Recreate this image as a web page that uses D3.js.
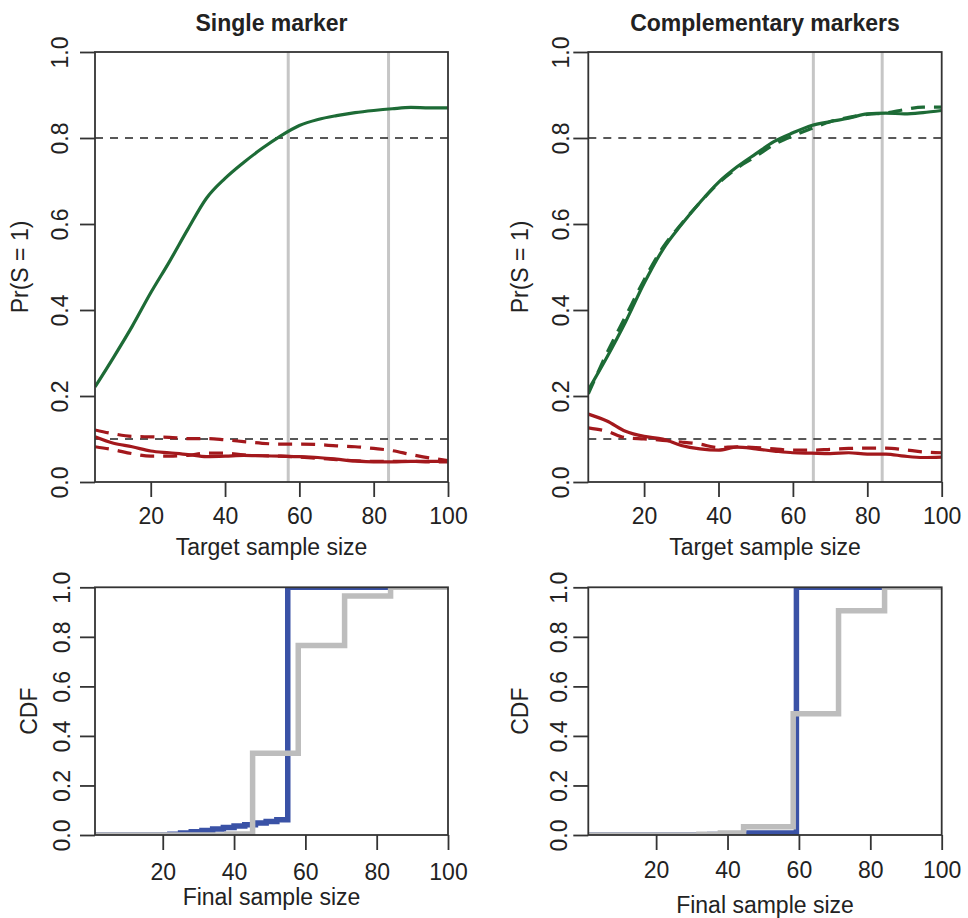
<!DOCTYPE html>
<html><head><meta charset="utf-8">
<script src="https://cdn.jsdelivr.net/npm/d3@7"></script>
<style>
body{margin:0;background:#fff;}
svg{display:block;font-family:"Liberation Sans",Arial,Helvetica,sans-serif;}
</style></head><body><svg id="c" width="968" height="918"></svg>
<script>
// ---------------- data ----------------
const targetSizes = [5,10,15,20,25,30,35,40,45,50,55,60,65,70,75,80,85,90,95,100];

// Single marker (top-left)
const singleGreenSolid = [0.221,0.29,0.362,0.44,0.512,0.588,0.66,0.706,0.743,0.776,0.805,0.829,0.843,0.852,0.859,0.864,0.868,0.871,0.870,0.870];
const singleRedSolid   = [0.105,0.09,0.082,0.072,0.068,0.064,0.059,0.060,0.062,0.061,0.060,0.059,0.057,0.053,0.049,0.047,0.047,0.048,0.048,0.048];
const singleRedDashHi  = [0.121,0.112,0.106,0.105,0.104,0.101,0.101,0.098,0.094,0.090,0.088,0.088,0.087,0.084,0.082,0.078,0.073,0.064,0.056,0.050];
const singleRedDashLo  = [0.082,0.075,0.066,0.060,0.060,0.062,0.067,0.067,0.063,0.061,0.060,0.058,0.055,0.052,0.049,0.048,0.048,0.048,0.047,0.047];

// Complementary markers (top-right)
const compGreenSolid = [0.214,0.29,0.372,0.462,0.54,0.598,0.65,0.697,0.733,0.763,0.792,0.812,0.829,0.838,0.846,0.856,0.858,0.856,0.859,0.864];
const compGreenDash  = [0.205,0.30,0.385,0.47,0.545,0.60,0.65,0.695,0.73,0.757,0.785,0.805,0.822,0.838,0.848,0.855,0.858,0.866,0.872,0.872];
const compRedSolid   = [0.158,0.142,0.118,0.106,0.100,0.085,0.077,0.074,0.081,0.077,0.072,0.068,0.067,0.066,0.068,0.065,0.065,0.060,0.057,0.058];
const compRedDash    = [0.126,0.118,0.103,0.100,0.097,0.093,0.088,0.080,0.082,0.080,0.077,0.074,0.074,0.076,0.078,0.079,0.079,0.075,0.070,0.068];

const thresholdLevels = [0.8, 0.1];
const singleRefSizes = [57, 84];
const compRefSizes = [65.5, 84];

// CDFs of final sample size (step functions)
const cdfSingleBlueX = [1,22,25,28,31,34,37,40,43,46,49,52,55.06,100];
const cdfSingleBlueY = [0,0.003,0.008,0.013,0.018,0.024,0.030,0.036,0.041,0.048,0.055,0.062,1.0,1.0];
const cdfSingleGrayX = [1,38,45.2,58,71,83.9,100];
const cdfSingleGrayY = [0,0.004,0.33,0.765,0.965,1.0,1.0];
const cdfCompBlueX = [1,35,46,59.3,100];
const cdfCompBlueY = [0,0.002,0.008,1.0,1.0];
const cdfCompGrayX = [1,32,38,44.5,58.4,71.1,84,100];
const cdfCompGrayY = [0,0.003,0.008,0.033,0.49,0.905,1.0,1.0];

const xTicks = [20,40,60,80,100];
const yTicks = [0,0.2,0.4,0.6,0.8,1.0];

const titles = ["Single marker","Complementary markers"];
const xLabels = ["Target sample size","Final sample size"];
const yLabels = ["Pr(S = 1)","CDF"];

// ---------------- styles ----------------
const C = {green:"#1d6b36", red:"#a3181c", blue:"#3a52a6", gray:"#bdbdbd", vgray:"#c6c6c6", frame:"#333", text:"#222"};
const FS = 23;

const svg = d3.select("#c");

function panel(p){
  const x = d3.scaleLinear().domain(p.xDomain).range([p.x0,p.x1]);
  const y = d3.scaleLinear().domain([0,1]).range([p.y1,p.y0]);
  const clipId = "clip"+p.id;
  svg.append("clipPath").attr("id",clipId).append("rect")
     .attr("x",p.x0).attr("y",p.y0).attr("width",p.x1-p.x0).attr("height",p.y1-p.y0);
  const g = svg.append("g").attr("clip-path",`url(#${clipId})`);
  p.draw(g,x,y);

  // x axis
  const xa = svg.append("g").attr("transform",`translate(0,${p.y1})`)
     .call(d3.axisBottom(x).tickValues(xTicks).tickSize(15).tickSizeOuter(0));
  xa.select(".domain").remove();
  xa.selectAll(".tick line").attr("stroke",C.frame).attr("stroke-width",1.8);
  xa.selectAll(".tick text").attr("y",p.xTickY-p.y1).attr("dy",null)
     .attr("font-size",FS).attr("fill",C.text).attr("font-family",null);

  // y axis
  const ya = svg.append("g").attr("transform",`translate(${p.x0},0)`)
     .call(d3.axisLeft(y).tickValues(yTicks).tickFormat(d3.format(".1f")).tickSize(15).tickSizeOuter(0));
  ya.select(".domain").remove();
  ya.selectAll(".tick line").attr("stroke",C.frame).attr("stroke-width",1.8);
  ya.selectAll(".tick text").attr("x",null).attr("dy",null)
     .attr("transform",`translate(${p.yTickX-p.x0},0) rotate(-90)`)
     .attr("text-anchor","middle").attr("font-size",FS).attr("fill",C.text).attr("font-family",null);

  // frame
  svg.append("rect").attr("x",p.x0).attr("y",p.y0).attr("width",p.x1-p.x0).attr("height",p.y1-p.y0)
     .attr("fill","none").attr("stroke",C.frame).attr("stroke-width",1.8);

  const cx = (p.x0+p.x1)/2, cy = (p.y0+p.y1)/2;
  if(p.title) svg.append("text").attr("x",cx).attr("y",p.titleY).attr("text-anchor","middle")
     .attr("font-size",FS).attr("font-weight","bold").attr("fill",C.text).text(p.title);
  svg.append("text").attr("x",cx).attr("y",p.xlabY).attr("text-anchor","middle")
     .attr("font-size",FS).attr("fill",C.text).text(p.xlab);
  svg.append("text").attr("transform",`translate(${p.ylabX},${cy}) rotate(-90)`).attr("text-anchor","middle")
     .attr("font-size",FS).attr("fill",C.text).text(p.ylab);
}

function topDraw(refSizes, series){
  return (g,x,y)=>{
    refSizes.forEach(v=>g.append("line").attr("x1",x(v)).attr("x2",x(v)).attr("y1",y(0)).attr("y2",y(1))
       .attr("stroke",C.vgray).attr("stroke-width",3));
    thresholdLevels.forEach(v=>g.append("line").attr("x1",x.range()[0]).attr("x2",x.range()[1]).attr("y1",y(v)).attr("y2",y(v))
       .attr("stroke","#222").attr("stroke-width",1.6).attr("stroke-dasharray","8,7"));
    const line = d3.line().x((d,i)=>x(targetSizes[i])).y(d=>y(d)).curve(d3.curveMonotoneX);
    series.forEach(s=>g.append("path").attr("d",line(s.values)).attr("fill","none")
       .attr("stroke",s.color).attr("stroke-width",3.2).attr("stroke-dasharray",s.dash?"14,9":null)
       .attr("stroke-linejoin","round"));
  };
}
function cdfDraw(curves){
  return (g,x,y)=>{
    const line = d3.line().curve(d3.curveStepAfter);
    curves.forEach(c=>g.append("path").attr("d",line(c.xs.map((v,i)=>[x(v),y(c.ys[i])]))).attr("fill","none")
       .attr("stroke",c.color).attr("stroke-width",5.5));
  };
}

panel({id:1,x0:95,x1:448,y0:52,y1:482,xDomain:[5,100],title:titles[0],titleY:31,
  xlab:xLabels[0],xlabY:555,xTickY:524,ylab:yLabels[0],ylabX:28,yTickX:68,
  draw:topDraw(singleRefSizes,[
    {values:singleRedDashHi,color:C.red,dash:true},
    {values:singleRedDashLo,color:C.red,dash:true},
    {values:singleRedSolid,color:C.red},
    {values:singleGreenSolid,color:C.green}])});

panel({id:2,x0:588.3,x1:941.7,y0:52,y1:482,xDomain:[5,100],title:titles[1],titleY:31,
  xlab:xLabels[0],xlabY:555,xTickY:524,ylab:yLabels[0],ylabX:528,yTickX:569,
  draw:topDraw(compRefSizes,[
    {values:compRedDash,color:C.red,dash:true},
    {values:compRedSolid,color:C.red},
    {values:compGreenDash,color:C.green,dash:true},
    {values:compGreenSolid,color:C.green}])});

panel({id:3,x0:95,x1:448,y0:587.3,y1:835,xDomain:[1,100],
  xlab:xLabels[1],xlabY:905,xTickY:880,ylab:yLabels[1],ylabX:37,yTickX:70,
  draw:cdfDraw([
    {xs:cdfSingleBlueX,ys:cdfSingleBlueY,color:C.blue},
    {xs:cdfSingleGrayX,ys:cdfSingleGrayY,color:C.gray}])});

panel({id:4,x0:588.3,x1:941.7,y0:587.3,y1:835,xDomain:[1,100],
  xlab:xLabels[1],xlabY:913,xTickY:878,ylab:yLabels[1],ylabX:528,yTickX:567,
  draw:cdfDraw([
    {xs:cdfCompBlueX,ys:cdfCompBlueY,color:C.blue},
    {xs:cdfCompGrayX,ys:cdfCompGrayY,color:C.gray}])});
</script></body></html>
